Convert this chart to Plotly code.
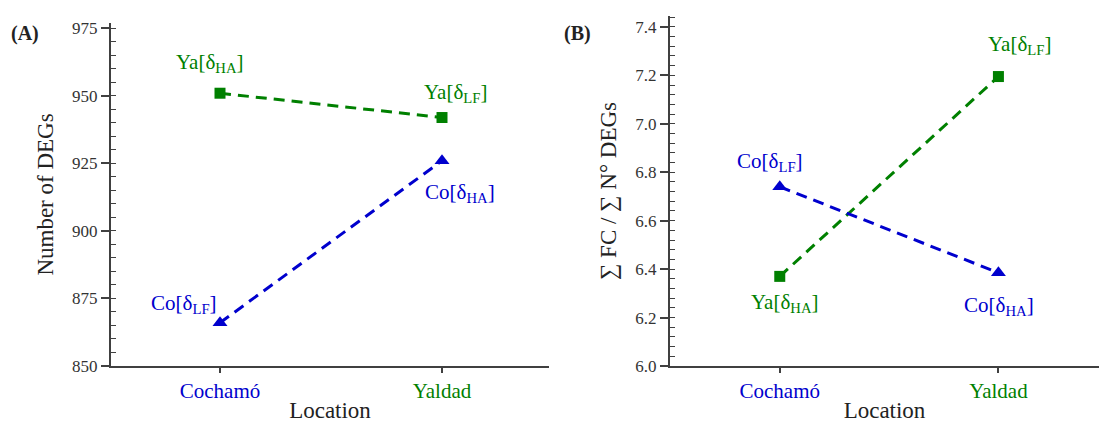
import plotly.graph_objects as go

locations = ["Cochamó", "Yaldad"]
x_pos = [0, 1]

# Panel A: Number of DEGs
degs_ya = [951, 942]
degs_co = [866, 926]
# Panel B: sum FC / sum N DEGs
fc_ya = [6.37, 7.195]
fc_co = [6.74, 6.385]

labels_ya = ["Ya[δ<sub>HA</sub>]", "Ya[δ<sub>LF</sub>]"]
labels_co = ["Co[δ<sub>LF</sub>]", "Co[δ<sub>HA</sub>]"]

GREEN = "rgb(0,128,0)"
BLUE = "rgb(0,0,205)"
AX = "rgb(64,64,64)"
FONT = "Liberation Serif"

fig = go.Figure()

def add_panel(xa, ya, yvals_ya, yvals_co):
    fig.add_trace(go.Scatter(x=x_pos, y=yvals_ya, xaxis=xa, yaxis=ya, mode="lines+markers",
                             line=dict(color=GREEN, width=3, dash="11px,7px"),
                             marker=dict(symbol="square", size=11, color=GREEN),
                             showlegend=False, hoverinfo="skip"))
    fig.add_trace(go.Scatter(x=x_pos, y=yvals_co, xaxis=xa, yaxis=ya, mode="lines+markers",
                             line=dict(color=BLUE, width=3, dash="11px,7px"),
                             marker=dict(symbol="triangle-up", size=13, color=BLUE),
                             showlegend=False, hoverinfo="skip"))

add_panel("x", "y", degs_ya, degs_co)
add_panel("x2", "y2", fc_ya, fc_co)

ticktext = [f"<span style='color:{BLUE}'>{locations[0]}</span>",
            f"<span style='color:{GREEN}'>{locations[1]}</span>"]

xcommon = dict(tickvals=x_pos, ticktext=ticktext, showgrid=False, zeroline=False,
               showline=True, linecolor=AX, linewidth=2, ticks="outside", ticklen=5,
               tickcolor=AX, tickwidth=1.5, automargin=False,
               tickfont=dict(family=FONT, size=21),
               title=dict(text="Location", font=dict(family=FONT, size=23, color="#222"), standoff=2))
ycommon = dict(showgrid=False, zeroline=False, showline=True, linecolor=AX, linewidth=2,
               ticks="outside", ticklen=8, tickcolor=AX, tickwidth=1.5, automargin=False,
               tickfont=dict(family=FONT, size=17, color="#333"))

fig.update_layout(
    width=1099, height=423, margin=dict(l=0, r=0, t=0, b=0),
    plot_bgcolor="white", paper_bgcolor="white",
    xaxis=dict(domain=[111/1099, 549/1099], range=[-0.491, 1.482], anchor="y", **xcommon),
    xaxis2=dict(domain=[670/1099, 1.0], range=[-0.502, 1.46], anchor="y2", **xcommon),
    yaxis=dict(domain=[1-366/423, 1-23/423], range=[850, 977], anchor="x",
               tickvals=[850, 875, 900, 925, 950, 975],
               minor=dict(ticks="inside", ticklen=5, tickcolor=AX, tickwidth=1, dtick=5, tick0=850),
               title=dict(text="Number of DEGs", font=dict(family=FONT, size=23, color="#222"), standoff=12),
               **ycommon),
    yaxis2=dict(domain=[1-366/423, 1-16/423], range=[6.0, 7.445], anchor="x2",
                tickvals=[6.0, 6.2, 6.4, 6.6, 6.8, 7.0, 7.2, 7.4], ticktext=["6.0", "6.2", "6.4", "6.6", "6.8", "7.0", "7.2", "7.4"],
                minor=dict(ticks="inside", ticklen=5, tickcolor=AX, tickwidth=1, dtick=0.04, tick0=6.0),
                title=dict(text="∑ FC / ∑ N° DEGs", font=dict(family=FONT, size=23, color="#222"), standoff=12),
                **ycommon),
)

ann = []
def lab(text, x, y, xa, ya, color, xs, ys):
    ann.append(dict(text=text, x=x, y=y, xref=xa, yref=ya, xshift=xs, yshift=ys,
                    showarrow=False, font=dict(family=FONT, size=21, color=color)))

# Panel A
lab(labels_ya[0], x_pos[0], degs_ya[0], "x", "y", GREEN, -10, 30)
lab(labels_ya[1], x_pos[1], degs_ya[1], "x", "y", GREEN, 13, 25)
lab(labels_co[0], x_pos[0], degs_co[0], "x", "y", BLUE, -36, 19)
lab(labels_co[1], x_pos[1], degs_co[1], "x", "y", BLUE, 18, -32)
# Panel B (HA/LF reversed per location)
lab("Ya[δ<sub>HA</sub>]", x_pos[0], fc_ya[0], "x2", "y2", GREEN, 5, -27)
lab("Ya[δ<sub>LF</sub>]", x_pos[1], fc_ya[1], "x2", "y2", GREEN, 21, 32)
lab("Co[δ<sub>LF</sub>]", x_pos[0], fc_co[0], "x2", "y2", BLUE, -10, 25)
lab("Co[δ<sub>HA</sub>]", x_pos[1], fc_co[1], "x2", "y2", BLUE, 1, -33)

ann.append(dict(text="<b>(A)</b>", x=25/1099, y=1-33/423, xref="paper", yref="paper",
                xanchor="center", yanchor="middle",
                showarrow=False, font=dict(family=FONT, size=20, color="#222")))
ann.append(dict(text="<b>(B)</b>", x=577/1099, y=1-33/423, xref="paper", yref="paper",
                xanchor="center", yanchor="middle",
                showarrow=False, font=dict(family=FONT, size=20, color="#222")))
fig.update_layout(annotations=ann)

fig.write_html("out.html", config={"displayModeBar": False},
               post_script="document.body.style.margin='0';document.body.style.overflow='hidden';")
